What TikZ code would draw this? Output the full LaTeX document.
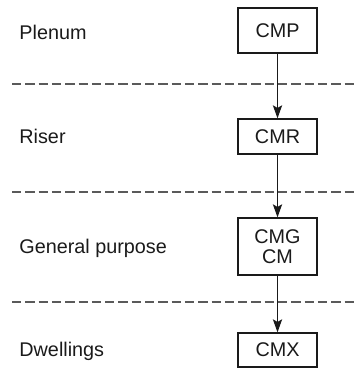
\documentclass[tikz,border=0pt]{standalone}
\usepackage{fontspec}
\setmainfont{Liberation Sans}
\usetikzlibrary{arrows.meta}
\definecolor{ink}{HTML}{1A1A1A}
\definecolor{sep}{HTML}{5A5A5A}
\tikzset{
  cablebox/.style={draw=ink, line width=0.65pt, minimum width=39.5pt, inner sep=0pt, align=center, text=ink, font=\fontsize{9.9}{10}\selectfont},
  lab/.style={anchor=base west, inner sep=0pt, text=ink, font=\fontsize{9.9}{11}\selectfont},
  divider/.style={draw=sep, line width=0.8pt, dash pattern=on 4.65pt off 2pt},
  arr/.style={draw=ink, line width=0.75pt, -{Stealth[length=6.5pt,width=4.6pt,inset=1.3pt]}}
}

\begin{document}
\begin{tikzpicture}[x=0.5pt,y=-0.5pt]
  \useasboundingbox (0,0) rectangle (357,368);

  % Rating boxes
  \node[cablebox, minimum height=22.5pt] (cmp) at (277.5,30.5) {CMP};
  \node[cablebox, minimum height=17.5pt] (cmr) at (277.5,136.5) {CMR};
  \node[cablebox, minimum height=28.5pt] (cmg) at (277.5,246.5) {CMG\\CM};
  \node[cablebox, minimum height=17pt] (cmx) at (277.5,350) {CMX};

  % Application labels
  \node[lab] (plenum) at (19,39.3) {Plenum};
  \node[lab] (riser) at (19,144) {Riser};
  \node[lab] (general) at (19,253) {General purpose};
  \node[lab] (dwellings) at (19,356) {Dwellings};

  % Dividers
  \draw[divider] (12,84) -- (357,84);
  \draw[divider] (12,192) -- (357,192);
  \draw[divider] (12,302) -- (357,302);

  \draw[arr] (cmp) -- (cmr);
  \draw[arr] (cmr) -- (cmg);
  \draw[arr] (cmg) -- (cmx);
\end{tikzpicture}
\end{document}
